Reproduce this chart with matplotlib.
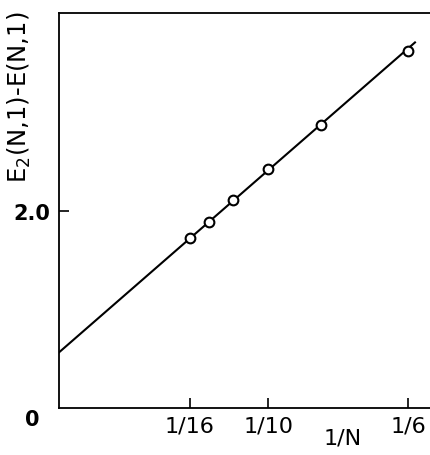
import numpy as np
import matplotlib
matplotlib.use("Agg")
import matplotlib.pyplot as plt

# DATA
inv_n = [1/16, 1/14, 1/12, 1/10, 1/8, 1/6]
energy_gap = [1.72, 1.89, 2.11, 2.42, 2.87, 3.62]

# fitted straight line (end points)
fit_x = [0.0, 0.170]
fit_y = [0.56, 3.71]

xtick_pos = [1/16, 1/10, 1/6]
xtick_labels = ["1/16", "1/10", "1/6"]
ytick_pos = [2.0]
ytick_labels = ["2.0"]

# PLOT
fig = plt.figure(figsize=(4.31, 4.56), dpi=100)
ax = fig.add_axes([59/431, 1 - 408.5/456, 1 - 59/431, (408.5 - 14)/456])

ax.plot(fit_x, fit_y, color="black", lw=1.5, zorder=2)
ax.plot(inv_n, energy_gap, "o", ms=7, mfc="white", mec="black", mew=1.5, zorder=3)

ax.set_xlim(0, (431 - 59)/2094)
ax.set_ylim(0, (408.5 - 14)/98.4)

ax.set_xticks(xtick_pos)
ax.set_xticklabels(xtick_labels, fontsize=16)
ax.set_yticks(ytick_pos)
ax.set_yticklabels(ytick_labels, fontsize=15, fontweight="bold")
ax.tick_params(direction="in", length=7, width=1.2, pad=6)

for s in ["left", "bottom", "top"]:
    ax.spines[s].set_linewidth(1.3)
ax.spines["right"].set_visible(False)

# "0" at the origin, below and left of the corner
ax.text((32.5 - 59)/372, (408.5 - 420.5)/394.5, "0", transform=ax.transAxes,
        fontsize=15, fontweight="bold", ha="center", va="center")
ax.text(284/372, -0.075, "1/N", transform=ax.transAxes, fontsize=16,
        ha="center", va="center")
ax.set_ylabel("E$_2$(N,1)-E(N,1)", fontsize=17.5)
ax.yaxis.set_label_coords((33 - 59)/372, 1 - (97 - 14)/394.5)

plt.savefig("out.png", dpi=100)
plt.close()
